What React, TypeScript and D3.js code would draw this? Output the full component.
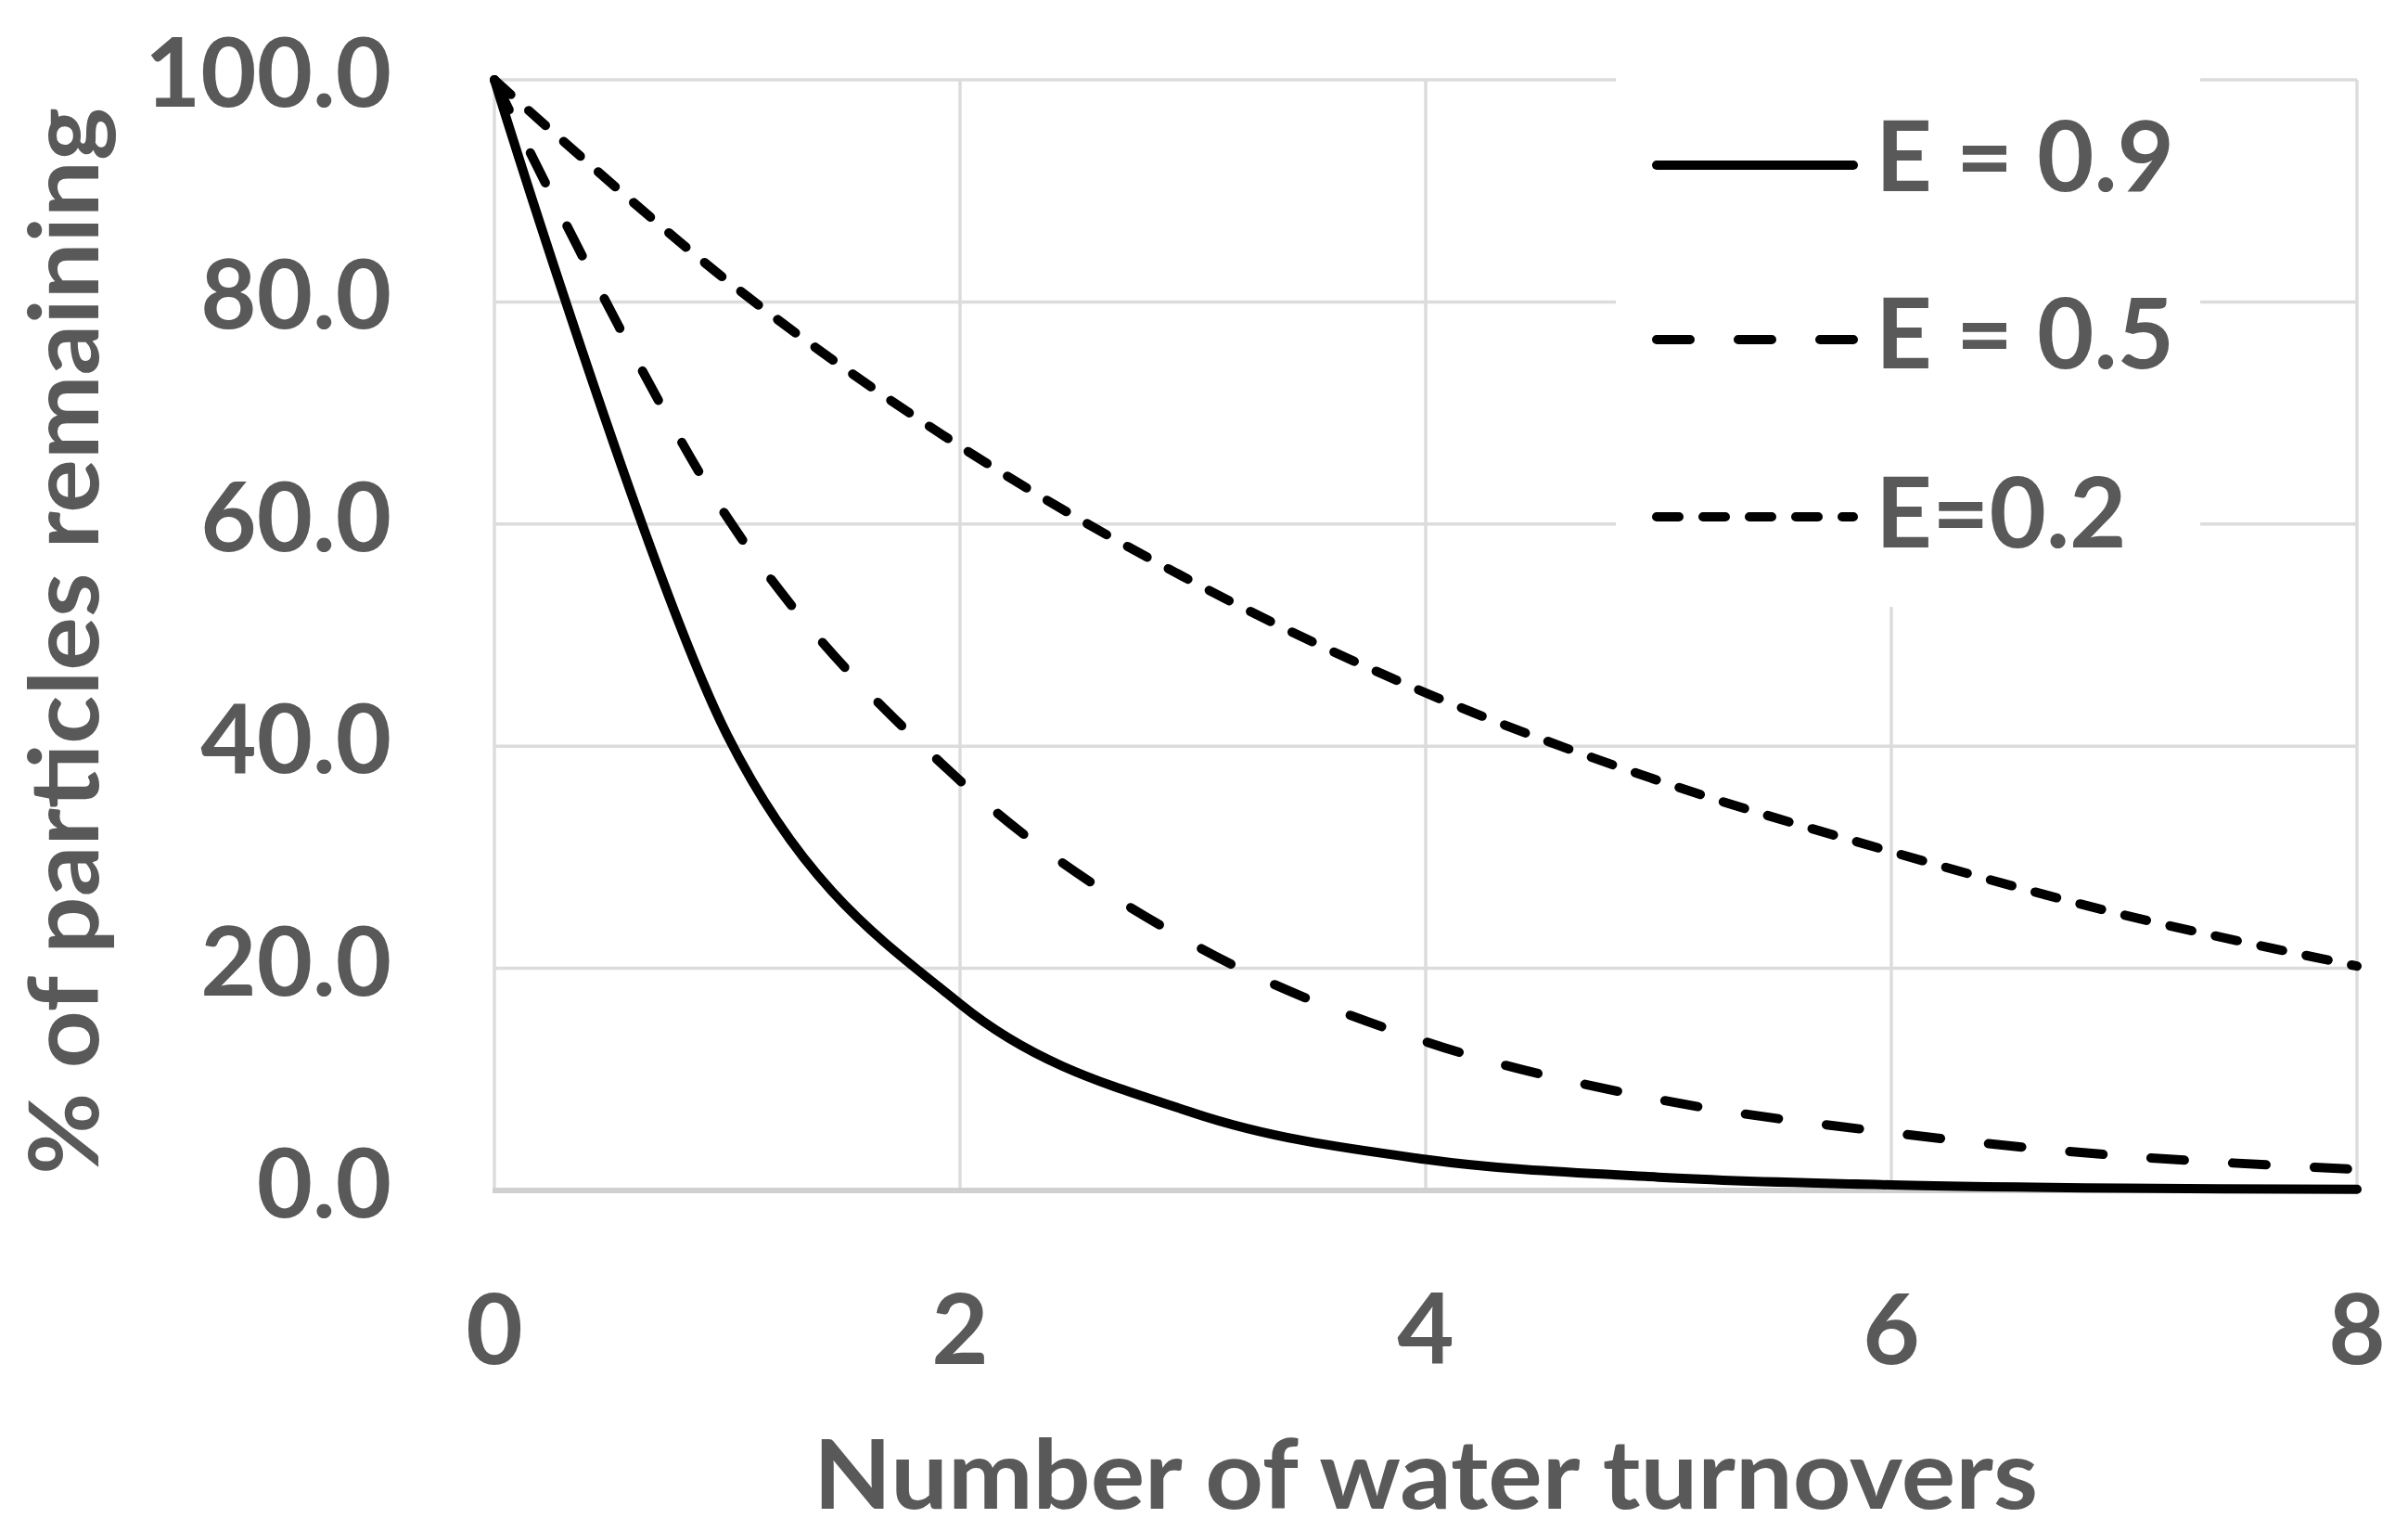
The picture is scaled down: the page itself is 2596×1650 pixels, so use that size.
import React from "react";
import * as d3 from "d3";

const turnovers = [0, 1, 2, 3, 4, 5, 6, 7, 8];
const seriesE09 = [100, 41, 16.8, 7.0, 2.8, 1.2, 0.5, 0.2, 0.1];
const seriesE05 = [100, 60.6, 36.9, 22.2, 13.4, 8.2, 5.2, 3.1, 1.9];
const seriesE02 = [100, 81.9, 67.0, 54.8, 44.8, 36.9, 30.5, 24.8, 20.2];
const seriesNames = ["E = 0.9", "E = 0.5", "E=0.2"];
const xTicks = [0, 2, 4, 6, 8];
const yTicks = [0, 20, 40, 60, 80, 100];
const xTitle = "Number of water turnovers";
const yTitle = "% of particles remaining";

const W = 2596;
const H = 1650;
const FONT = "Lato, 'Open Sans', sans-serif";
const TEXT = "#595959";
const GRID = "#dcdcdc";

export default function App() {
  const x = d3.scaleLinear().domain([0, 8]).range([533, 2541]);
  const y = d3.scaleLinear().domain([0, 100]).range([1283, 86]);

  const series = [
    { name: seriesNames[0], values: seriesE09, dash: null as string | null },
    { name: seriesNames[1], values: seriesE05, dash: "36 52" },
    { name: seriesNames[2], values: seriesE02, dash: "24 26" },
  ];

  const line = d3
    .line<number>()
    .x((_, i) => x(turnovers[i]))
    .y((d) => y(d))
    .curve(d3.curveCardinal.tension(0));

  const legendLineY = [178, 366, 557];
  const legendTextY = [206, 397, 590];

  return (
    <svg
      width={W}
      height={H}
      style={{ position: "absolute", left: 0, top: 0, background: "#fff" }}
      fontFamily={FONT}
    >
      <rect x={0} y={0} width={W} height={H} fill="#fff" />
      {yTicks.filter((t) => t !== 0).map((t) => (
        <line key={"gy" + t} x1={x(0)} x2={x(8)} y1={y(t)} y2={y(t)} stroke={GRID} strokeWidth={3.5} />
      ))}
      {xTicks.map((t) => (
        <line key={"gx" + t} x1={x(t)} x2={x(t)} y1={y(100)} y2={y(0)} stroke={GRID} strokeWidth={3.5} />
      ))}
      <line x1={x(0) - 2} x2={x(8) + 2} y1={y(0)} y2={y(0)} stroke="#d0d0d0" strokeWidth={6} />

      <rect x={1742} y={40} width={630} height={614} fill="#fff" />

      {series.map((s) => (
        <path
          key={s.name}
          d={line(s.values) || ""}
          fill="none"
          stroke="#000"
          strokeWidth={10}
          strokeDasharray={s.dash || undefined}
          strokeLinecap="round"
          strokeLinejoin="round"
        />
      ))}

      {yTicks.map((t) => (
        <text
          key={"ty" + t}
          x={422}
          y={y(t) - 8 + 37}
          textAnchor="end"
          fontSize={104}
          fontWeight={700}
          fill={TEXT}
        >
          {t.toFixed(1)}
        </text>
      ))}
      {xTicks.map((t) => (
        <text
          key={"tx" + t}
          x={x(t)}
          y={1470}
          textAnchor="middle"
          fontSize={106}
          fontWeight={700}
          fill={TEXT}
        >
          {t}
        </text>
      ))}
      <text
        x={1537}
        y={1626}
        textAnchor="middle"
        fontSize={104}
        fontWeight={700}
        fill={TEXT}
        textLength={1320}
        lengthAdjust="spacingAndGlyphs"
      >
        {xTitle}
      </text>
      <text
        transform="translate(106,691) rotate(-90)"
        textAnchor="middle"
        fontSize={104}
        fontWeight={700}
        fill={TEXT}
        textLength={1150}
        lengthAdjust="spacingAndGlyphs"
      >
        {yTitle}
      </text>

      {series.map((s, i) => (
        <g key={"lg" + s.name}>
          <line
            x1={1786}
            x2={1998}
            y1={legendLineY[i]}
            y2={legendLineY[i]}
            stroke="#000"
            strokeWidth={10}
            strokeDasharray={s.dash || undefined}
            strokeLinecap="round"
          />
          <text x={2022} y={legendTextY[i]} fontSize={106} fontWeight={700} fill={TEXT}>
            {s.name}
          </text>
        </g>
      ))}
    </svg>
  );
}
